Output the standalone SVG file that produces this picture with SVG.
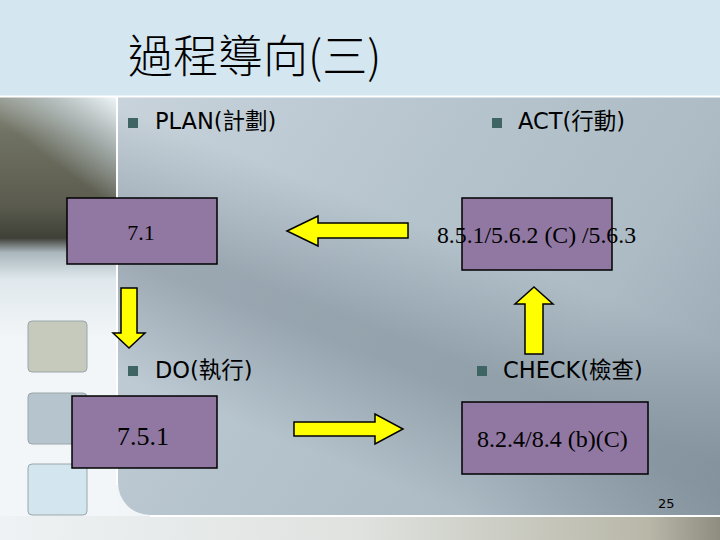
<svg xmlns="http://www.w3.org/2000/svg" width="720" height="540" viewBox="0 0 720 540">
<defs>
<linearGradient id="leftg" x1="0" y1="97" x2="0" y2="340" gradientUnits="userSpaceOnUse">
<stop offset="0" stop-color="#8d8f82"/>
<stop offset="0.15" stop-color="#707263"/>
<stop offset="0.45" stop-color="#5a5b4e"/>
<stop offset="0.58" stop-color="#3f4037"/>
<stop offset="0.64" stop-color="#a9b6bc"/>
<stop offset="0.75" stop-color="#dfe8ed"/>
<stop offset="1" stop-color="#f3f6f8"/>
</linearGradient>
<linearGradient id="leftHi" x1="117" y1="97" x2="40" y2="200" gradientUnits="userSpaceOnUse">
<stop offset="0" stop-color="#f0f6f9" stop-opacity="1"/>
<stop offset="0.35" stop-color="#c8d6dc" stop-opacity="0.6"/>
<stop offset="0.7" stop-color="#c8d6dc" stop-opacity="0"/>
</linearGradient>
<linearGradient id="panelg" x1="118" y1="97" x2="720" y2="515" gradientUnits="userSpaceOnUse">
<stop offset="0" stop-color="#c8d3db"/>
<stop offset="0.4" stop-color="#b6c4ce"/>
<stop offset="0.7" stop-color="#adbbc5"/>
<stop offset="1" stop-color="#93a2ac"/>
</linearGradient>
<linearGradient id="bandg" x1="446" y1="235" x2="354" y2="469" gradientUnits="userSpaceOnUse">
<stop offset="0" stop-color="#6f7d88" stop-opacity="0"/>
<stop offset="0.45" stop-color="#6f7d88" stop-opacity="0.45"/>
<stop offset="0.55" stop-color="#6f7d88" stop-opacity="0.45"/>
<stop offset="1" stop-color="#6f7d88" stop-opacity="0"/>
</linearGradient>
<linearGradient id="bottomg" x1="0" y1="0" x2="1" y2="0">
<stop offset="0" stop-color="#eef2f4"/>
<stop offset="0.5" stop-color="#dfe2df"/>
<stop offset="0.9" stop-color="#b8b7a8"/>
<stop offset="1" stop-color="#8e8d80"/>
</linearGradient>
<clipPath id="panelClip">
<path d="M118,97 H720 V515 H150 A32,32 0 0 1 118,483 Z"/>
</clipPath>
<style>
.box{fill:#9178a2;stroke:#000;stroke-width:1.5}
.arrow{fill:#ffff00;stroke:#000;stroke-width:1.5;stroke-linejoin:miter}
.num{font-family:"Liberation Serif","Times New Roman",serif;fill:#000}
.lbl{font-family:"DejaVu Sans","Noto Sans CJK TC",sans-serif;font-size:22.5px;fill:#000}
.bul{fill:#3f6464}
.sq{stroke:#9aa6aa;stroke-width:1}
</style>
</defs>
<!-- background -->
<rect x="0" y="0" width="720" height="540" fill="#f2f5f7"/>
<rect x="0" y="0" width="720" height="96" fill="#d4e6ef"/>
<rect x="0" y="97" width="117" height="443" fill="url(#leftg)"/>
<rect x="0" y="97" width="117" height="150" fill="url(#leftHi)"/>
<rect x="0" y="516" width="720" height="24" fill="url(#bottomg)"/>
<path d="M118,97 H720 V515 H150 A32,32 0 0 1 118,483 Z" fill="url(#panelg)"/>
<rect x="118" y="97" width="602" height="418" fill="url(#bandg)" clip-path="url(#panelClip)"/>
<line x1="0" y1="96.5" x2="720" y2="96.5" stroke="#ffffff" stroke-width="2"/>
<line x1="117" y1="96" x2="117" y2="485" stroke="#ffffff" stroke-width="2"/>
<line x1="150" y1="516" x2="720" y2="516" stroke="#ffffff" stroke-width="2"/>
<rect class="sq" x="28" y="321" width="59" height="51" rx="4" fill="#c6cabc"/>
<rect class="sq" x="28" y="393" width="59" height="51" rx="4" fill="#b6c4cd"/>
<rect class="sq" x="28" y="464" width="59" height="51" rx="4" fill="#d3e5ee"/>
<!-- title -->
<text x="128" y="73" font-family="'Noto Sans CJK TC','Noto Sans CJK SC',sans-serif" font-weight="300" font-size="45" fill="#000">過程導向(三)</text>
<!-- connectors -->
<g id="connectors">
<polygon class="arrow" points="287,231 318,216 318,223 408,223 408,238 318,238 318,246"/>
<polygon class="arrow" points="121,288 137,288 137,333 145,333 129,348 113,333 121,333"/>
<polygon class="arrow" points="294,422 375,422 375,414 403,429 375,444 375,436 294,436"/>
<polygon class="arrow" points="534,287 553,304 543,304 543,354 525,354 525,304 515,304"/>
</g>
<!-- nodes -->
<g id="plan">
<rect class="bul" x="128" y="118" width="10" height="10"/>
<text class="lbl" x="155" y="129">PLAN(計劃)</text>
<rect class="box" x="67" y="198" width="150" height="66"/>
<text class="num" x="141" y="240" font-size="22" text-anchor="middle">7.1</text>
</g>
<g id="act">
<rect class="bul" x="492" y="118" width="10" height="10"/>
<text class="lbl" x="518" y="129">ACT(行動)</text>
<rect class="box" x="462" y="198" width="150" height="72"/>
<text class="num" x="437" y="243" font-size="24" textLength="199" lengthAdjust="spacingAndGlyphs">8.5.1/5.6.2 (C) /5.6.3</text>
</g>
<g id="do">
<rect class="bul" x="128" y="366" width="10" height="10"/>
<text class="lbl" x="155" y="378">DO(執行)</text>
<rect class="box" x="72" y="396" width="145" height="72"/>
<text class="num" x="143" y="445" font-size="26" text-anchor="middle">7.5.1</text>
</g>
<g id="check">
<rect class="bul" x="477" y="366" width="10" height="10"/>
<text class="lbl" x="503" y="378">CHECK(檢查)</text>
<rect class="box" x="462" y="402" width="186" height="72"/>
<text class="num" x="477" y="447" font-size="24">8.2.4/8.4 (b)(C)</text>
</g>
<text x="658" y="508" font-family="'DejaVu Sans',sans-serif" font-size="13" fill="#000">25</text>
</svg>
